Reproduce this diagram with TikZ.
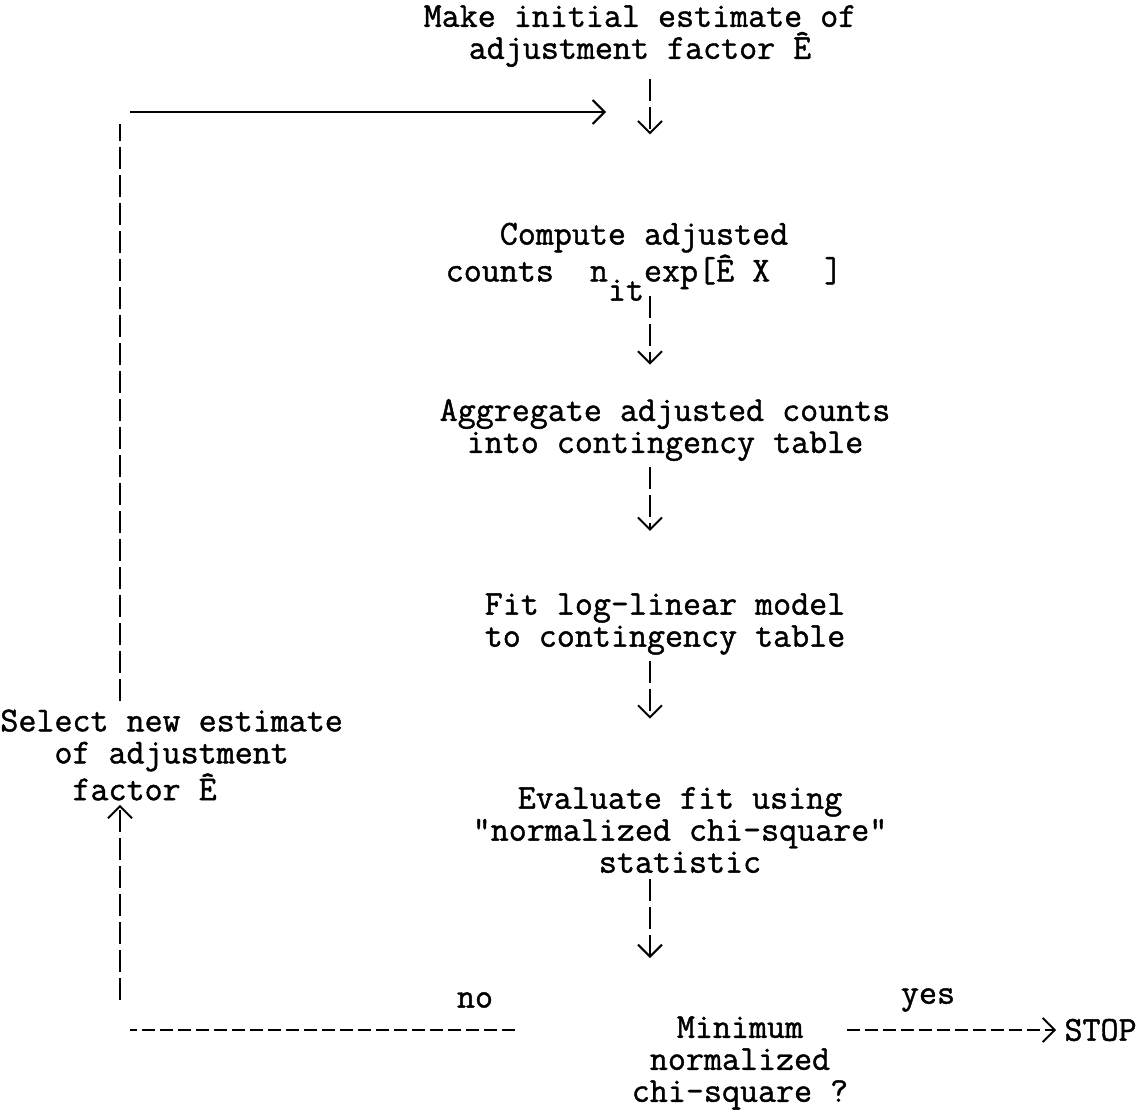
\documentclass[tikz,border=0pt]{standalone}
\usepackage{fontspec}
\newfontfamily\typewriter{Latin Modern Mono}[FakeBold=1.2]
\usepackage{tikz}
\usetikzlibrary{arrows.meta, calc}

\begin{document}
\begin{tikzpicture}[
        x=0.5pt, y=-0.5pt,
        txt/.style={
            align=center,
            inner sep=0pt,
            font=\typewriter\fontsize{17.5}{16}\selectfont
        },
        typed/.style={
            line width=1pt,
            dash pattern=on 11pt off 3pt
        },
        flow/.style={
            typed,
            -{Straight Barb[length=6pt, width=12pt, line width=1pt]}
        },
        hyphens/.style={
            line width=1pt,
            dash pattern=on 6.5pt off 2.5pt
        }
    ]
    \useasboundingbox (0,0) rectangle (1137,1119);
    \coordinate (col) at (650,0);
    \coordinate (looptop) at (120,112);
    \coordinate (loopbot) at (120,1030);

    \node[txt] (init) at (640,36) {Make initial estimate of\\adjustment factor Ê};
    \node[txt] (compute) at (644,256) {Compute adjusted\\counts\ \ n\raisebox{-0.55em}[0pt][0pt]{it}exp[Ê X\ \ \ ]};
    \node[txt] (aggr) at (665,430) {Aggregate adjusted counts\\into contingency table};
    \node[txt] (fit) at (665,624) {Fit log-linear model\\to contingency table};
    \node[txt] (eval) at (680,830) {Evaluate fit using\\"normalized chi-square"\\statistic};
    \node[txt] (minq) at (740,1063) {Minimum\\normalized\\chi-square ?};
    \node[txt, anchor=east] (stop) at (1137,1030) {STOP};
    \node[txt, anchor=west] (select) at (0,755) {Select new estimate\\of adjustment\\factor Ê\ \ \ \ };
    \node[txt] (no) at (475,1000) {no};
    \node[txt] (yes) at (928,1000) {yes};

    % main column
    \draw[flow, shorten <=6pt, shorten >=44pt] (init.south -| col) -- (compute.north -| col);
    \draw[flow, shorten <=3pt, shorten >=17pt] (compute.south -| col) -- (aggr.north -| col);
    \draw[flow, shorten <=3pt, shorten >=31pt] (aggr.south -| col) -- (fit.north -| col);
    \draw[flow, shorten <=3pt, shorten >=34pt] (fit.south -| col) -- (eval.north -| col);
    \draw[flow, shorten <=3pt, shorten >=29pt] (eval.south -| col) -- (minq.north -| col);

    % yes / no
    \draw[hyphens, -{Straight Barb[length=6pt, width=12pt, line width=1pt]}, shorten <=-1pt, shorten >=4pt] (minq.east |- stop.west) -- (stop.west);
    \draw[hyphens, shorten <=58pt, shorten >=5pt] (minq.west |- stop.west) -- (loopbot);

    % loop back
    \draw[flow, shorten <=15pt, shorten >=2pt] (loopbot) -- (loopbot |- select.south);
    \draw[typed, shorten <=4pt, shorten >=6pt] (looptop |- select.north) -- (looptop);
    \draw[line width=1pt, -{Straight Barb[length=6pt, width=12pt, line width=1pt]}, shorten <=5pt, shorten >=22pt] (looptop) -- (looptop -| col);
\end{tikzpicture}
\end{document}
